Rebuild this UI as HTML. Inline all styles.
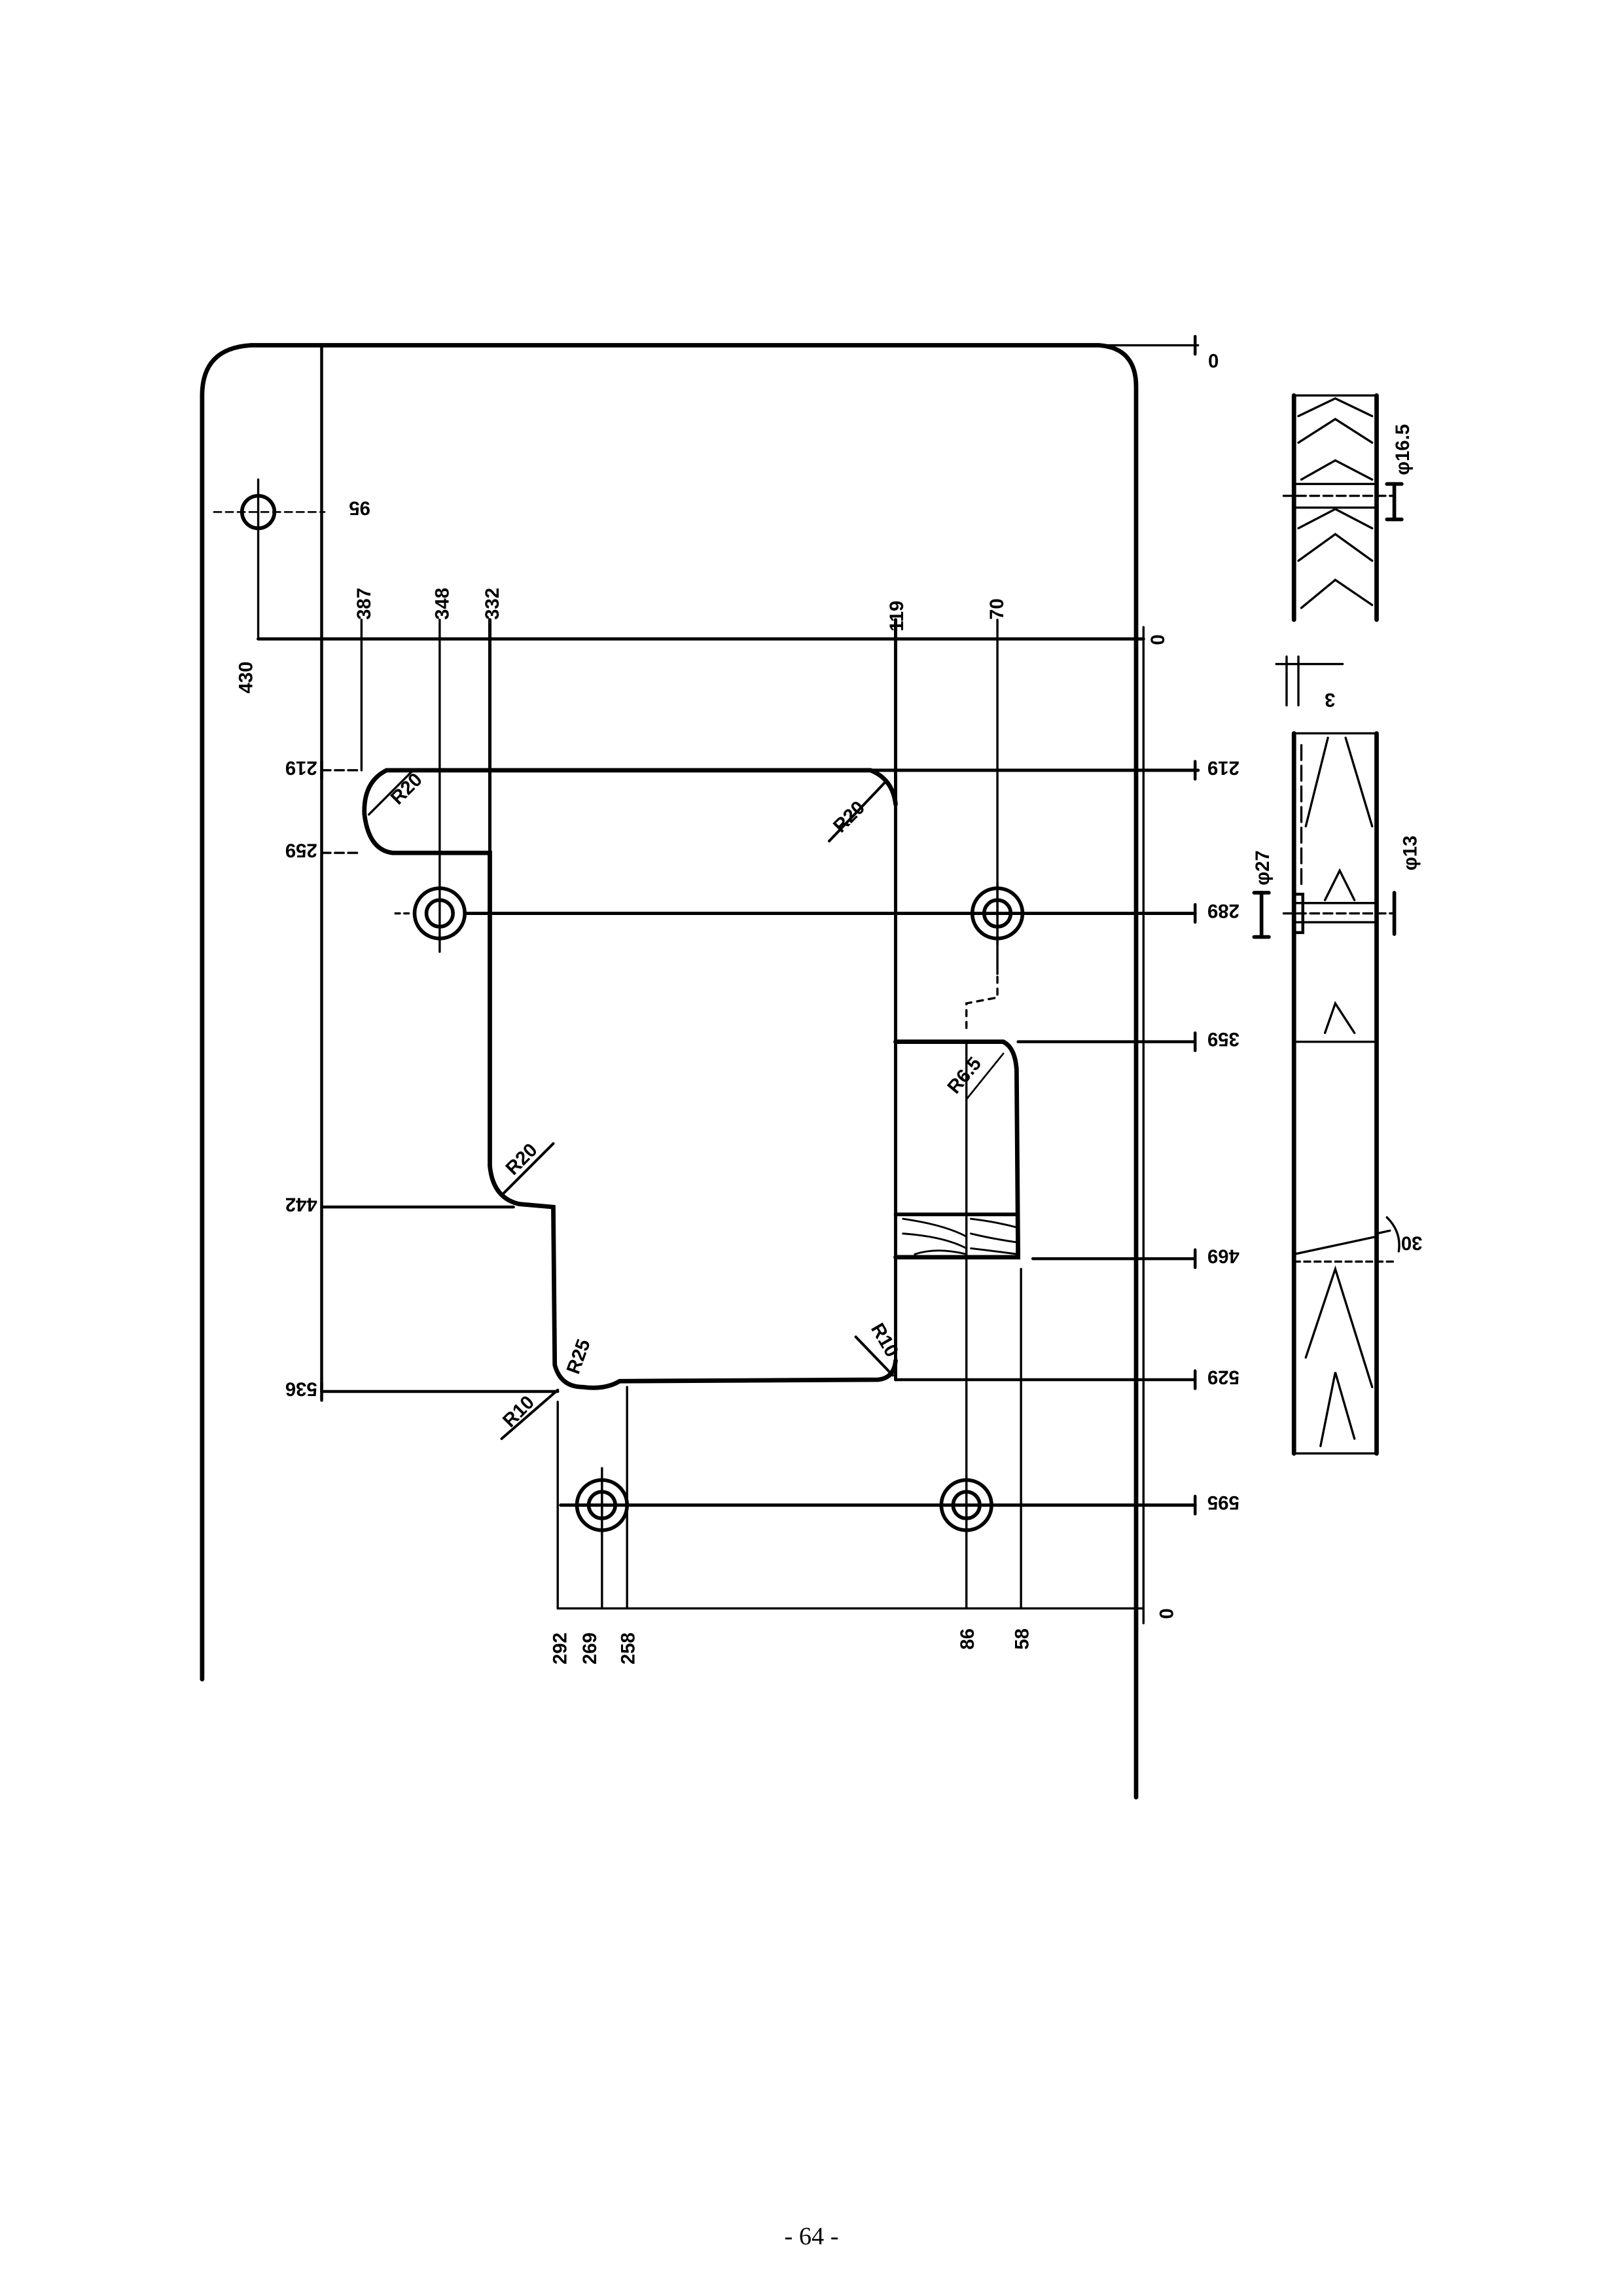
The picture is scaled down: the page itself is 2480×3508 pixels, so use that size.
<!DOCTYPE html>
<html><head><meta charset="utf-8"><style>
html,body{margin:0;padding:0;background:#fff;}
svg{display:block;}
text{font-family:"Liberation Sans",sans-serif;font-weight:bold;font-size:13px;fill:#000;}
</style></head><body>
<svg width="2480" height="3508" viewBox="0 0 1100 1556" preserveAspectRatio="none" xmlns="http://www.w3.org/2000/svg">
<rect width="1100" height="1556" fill="#fff"/>
<g fill="none" stroke="#000" stroke-linecap="round">
<!-- outer plate -->
<path d="M137,1138 L137,268 Q137,236 170,234 L745,234 Q770,236 770,262 L770,1218" stroke-width="3"/>
<line x1="745" y1="234" x2="812" y2="234" stroke-width="1.5"/>
<line x1="218" y1="234" x2="218" y2="943" stroke-width="2"/>
<!-- reference lines -->
<line x1="175" y1="433" x2="775" y2="433" stroke-width="2.2"/>
<line x1="218" y1="522" x2="245" y2="522" stroke-width="1.5" stroke-dasharray="6,3"/>
<line x1="262" y1="522" x2="812" y2="522" stroke-width="2.2"/>
<line x1="218" y1="578" x2="245" y2="578" stroke-width="1.5" stroke-dasharray="6,3"/>
<line x1="268" y1="619" x2="280" y2="619" stroke-width="1.5" stroke-dasharray="3,3"/>
<line x1="316" y1="619" x2="810" y2="619" stroke-width="2.2"/>
<line x1="690" y1="706" x2="810" y2="706" stroke-width="2"/>
<line x1="218" y1="818" x2="348" y2="818" stroke-width="2"/>
<line x1="700" y1="853" x2="810" y2="853" stroke-width="2"/>
<line x1="218" y1="943" x2="378" y2="943" stroke-width="2"/>
<line x1="607" y1="935" x2="810" y2="935" stroke-width="2"/>
<line x1="380" y1="1020" x2="810" y2="1020" stroke-width="2.2"/>
<line x1="378" y1="1090" x2="775" y2="1090" stroke-width="1.5"/>
<!-- 95 hole -->
<line x1="145" y1="347" x2="220" y2="347" stroke-width="1.2" stroke-dasharray="5,3"/>
<line x1="175" y1="325" x2="175" y2="433" stroke-width="1.5"/>
<circle cx="175" cy="347" r="11" stroke-width="2.5"/>
<!-- vertical dimension lines -->
<line x1="245" y1="420" x2="245" y2="522" stroke-width="1.5"/>
<line x1="298" y1="420" x2="298" y2="645" stroke-width="1.5"/>
<line x1="332" y1="420" x2="332" y2="578" stroke-width="2.2"/>
<line x1="607" y1="420" x2="607" y2="935" stroke-width="2.2"/>
<line x1="676" y1="420" x2="676" y2="660" stroke-width="1.5"/>
<path d="M676,662 L676,676 L655,680 L655,700" stroke-width="1.5" stroke-dasharray="4,4"/>
<line x1="655" y1="706" x2="655" y2="1090" stroke-width="1.5"/>
<line x1="692" y1="860" x2="692" y2="1090" stroke-width="1.5"/>
<line x1="378" y1="950" x2="378" y2="1090" stroke-width="1.5"/>
<line x1="408" y1="995" x2="408" y2="1090" stroke-width="1.5"/>
<line x1="425" y1="940" x2="425" y2="1090" stroke-width="1.5"/>
<line x1="775" y1="425" x2="775" y2="1100" stroke-width="1.5"/>
<!-- cutout profile -->
<path d="M262,522 Q246,530 247,552 Q250,576 266,578 L332,578 L332,790 Q334,812 352,816 L375,818 L376,925 Q380,940 395,940 Q410,942 420,936 L595,935 Q606,934 607,922" stroke-width="3"/>
<path d="M262,522 L590,522 Q605,528 607,545" stroke-width="3"/>
<path d="M607,706 L680,706 Q688,710 689,725 L690,852 L607,852" stroke-width="3"/>
<!-- hatched block -->
<path d="M612,826 Q640,830 655,838 M612,836 Q640,838 655,846 M620,850 Q635,845 655,850 M658,826 Q675,828 690,832 M658,836 Q675,840 690,842 M658,846 Q675,848 690,850" stroke-width="1.3"/>
<line x1="607" y1="823" x2="690" y2="823" stroke-width="2.5"/>
<!-- R leaders -->
<line x1="250" y1="552" x2="280" y2="522" stroke-width="1.5"/>
<line x1="562" y1="570" x2="600" y2="530" stroke-width="1.8"/>
<line x1="340" y1="810" x2="375" y2="775" stroke-width="1.8"/>
<line x1="580" y1="906" x2="605" y2="932" stroke-width="1.8"/>
<line x1="340" y1="975" x2="378" y2="942" stroke-width="1.8"/>
<line x1="655" y1="745" x2="680" y2="714" stroke-width="1.2"/>
<!-- holes -->
<g stroke-width="2.5">
<circle cx="298" cy="619" r="17"/><circle cx="298" cy="619" r="9"/>
<circle cx="676" cy="619" r="17"/><circle cx="676" cy="619" r="9"/>
<circle cx="408" cy="1020" r="17"/><circle cx="408" cy="1020" r="9"/>
<circle cx="655" cy="1020" r="17"/><circle cx="655" cy="1020" r="9"/>
</g>
<line x1="676" y1="598" x2="676" y2="640" stroke-width="1.5"/>
<line x1="408" y1="1000" x2="408" y2="1040" stroke-width="1.5"/>
<line x1="655" y1="1000" x2="655" y2="1040" stroke-width="1.5"/>
<!-- ticks -->
<g stroke-width="2">
<line x1="810" y1="228" x2="810" y2="240"/>
<line x1="810" y1="516" x2="810" y2="528"/>
<line x1="810" y1="613" x2="810" y2="625"/>
<line x1="810" y1="700" x2="810" y2="712"/>
<line x1="810" y1="847" x2="810" y2="859"/>
<line x1="810" y1="929" x2="810" y2="941"/>
<line x1="810" y1="1014" x2="810" y2="1026"/>
<line x1="218" y1="516" x2="218" y2="528"/>
<line x1="218" y1="937" x2="218" y2="949"/>
</g>
<!-- side view top -->
<g stroke-width="3">
<line x1="877" y1="268" x2="877" y2="420"/>
<line x1="933" y1="268" x2="933" y2="420"/>
<line x1="877" y1="497" x2="877" y2="985"/>
<line x1="933" y1="497" x2="933" y2="985"/>
</g>
<g stroke-width="1.5">
<line x1="877" y1="268" x2="933" y2="268"/>
<line x1="877" y1="328" x2="933" y2="328"/>
<line x1="877" y1="344" x2="933" y2="344"/>
<line x1="870" y1="336" x2="945" y2="336" stroke-dasharray="6,3"/>
<path d="M880,282 L905,270 L930,282 M880,300 L905,284 L930,300 M882,325 L905,312 L930,325 M880,358 L905,345 L930,358 M880,380 L905,362 L930,380 M882,412 L905,393 L930,410"/>
<line x1="877" y1="497" x2="933" y2="497"/>
<line x1="877" y1="706" x2="933" y2="706"/>
<line x1="877" y1="612" x2="933" y2="612"/>
<line x1="877" y1="625" x2="933" y2="625"/>
<line x1="870" y1="619" x2="945" y2="619" stroke-dasharray="6,3"/>
<line x1="877" y1="850" x2="933" y2="838"/>
<line x1="877" y1="855" x2="945" y2="855" stroke-dasharray="4,3"/>
<line x1="877" y1="985" x2="933" y2="985"/>
<path d="M885,560 L900,500 M912,500 L930,560 M898,610 L908,590 L918,610 M898,700 L905,680 L918,700 M885,920 L905,860 L930,940 M895,980 L905,930 L918,975"/>
<line x1="882" y1="505" x2="882" y2="600" stroke-dasharray="10,4"/>
<line x1="865" y1="450" x2="910" y2="450"/>
<line x1="872" y1="445" x2="872" y2="478"/>
<line x1="880" y1="445" x2="880" y2="478"/>
<rect x="877" y="606" width="6" height="26" stroke-width="2"/>
<path d="M940,825 Q950,835 948,848"/>
<line x1="933" y1="836" x2="942" y2="834"/>
</g>
<g stroke-width="2.5">
<line x1="945" y1="328" x2="945" y2="352"/><line x1="940" y1="328" x2="950" y2="328"/><line x1="940" y1="352" x2="950" y2="352"/>
<line x1="945" y1="605" x2="945" y2="633"/>
<line x1="855" y1="605" x2="855" y2="635"/><line x1="850" y1="605" x2="860" y2="605"/><line x1="850" y1="635" x2="860" y2="635"/>
</g>
</g>
<!-- labels: upside-down horizontals -->
<g>
<text transform="translate(826,240) rotate(180)">0</text>
<text transform="translate(251,340) rotate(180)">95</text>
<text transform="translate(215,516) rotate(180)">219</text>
<text transform="translate(215,572) rotate(180)">259</text>
<text transform="translate(215,812) rotate(180)">442</text>
<text transform="translate(215,937) rotate(180)">536</text>
<text transform="translate(840,516) rotate(180)">219</text>
<text transform="translate(840,613) rotate(180)">289</text>
<text transform="translate(840,700) rotate(180)">359</text>
<text transform="translate(840,847) rotate(180)">469</text>
<text transform="translate(840,929) rotate(180)">529</text>
<text transform="translate(840,1014) rotate(180)">595</text>
<text transform="translate(905,470) rotate(180)">3</text>
<text transform="translate(964,838) rotate(180)">30</text>
</g>
<!-- vertical labels -->
<g>
<text transform="translate(171,470) rotate(-90)">430</text>
<text transform="translate(251,420) rotate(-90)">387</text>
<text transform="translate(304,420) rotate(-90)">348</text>
<text transform="translate(338,420) rotate(-90)">332</text>
<text transform="translate(612,428) rotate(-90)">119</text>
<text transform="translate(680,420) rotate(-90)">70</text>
<text transform="translate(780,430) rotate(90)">0</text>
<text transform="translate(384,1128) rotate(-90)">292</text>
<text transform="translate(404,1128) rotate(-90)">269</text>
<text transform="translate(430,1128) rotate(-90)">258</text>
<text transform="translate(660,1118) rotate(-90)">86</text>
<text transform="translate(697,1118) rotate(-90)">58</text>
<text transform="translate(786,1090) rotate(90)">0</text>
<text transform="translate(955,322) rotate(-90)">φ16.5</text>
<text transform="translate(960,590) rotate(-90)">φ13</text>
<text transform="translate(860,600) rotate(-90)">φ27</text>
<text transform="translate(270,546) rotate(-45)">R20</text>
<text transform="translate(570,565) rotate(-45)">R20</text>
<text transform="translate(348,797) rotate(-45)">R20</text>
<text transform="translate(648,742) rotate(-50)">R6.5</text>
<text transform="translate(392,932) rotate(-70)">R25</text>
<text transform="translate(346,968) rotate(-45)">R10</text>
<text transform="translate(590,900) rotate(60)">R10</text>
</g>
<text x="550" y="1521" text-anchor="middle" style="font-family:'Liberation Serif',serif;font-weight:normal;font-size:17px">- 64 -</text>
</svg>
</body></html>
